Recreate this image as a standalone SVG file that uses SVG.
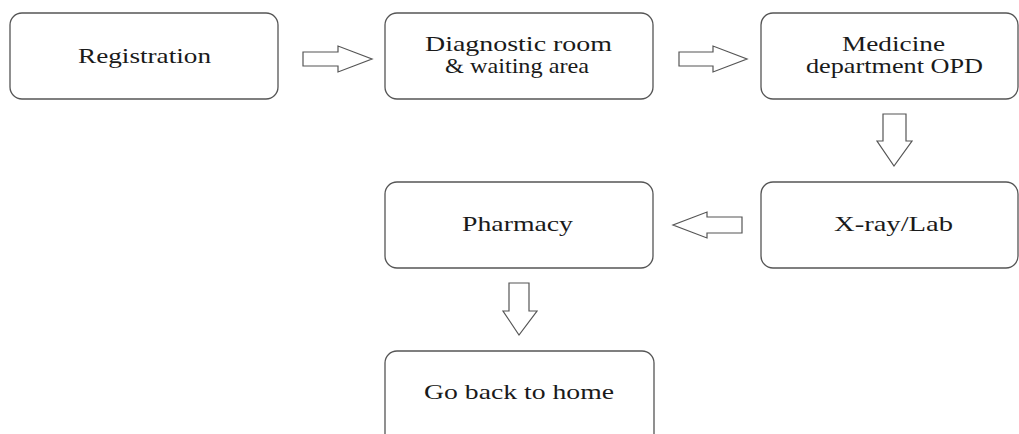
<svg xmlns="http://www.w3.org/2000/svg" width="1019" height="434" viewBox="0 0 1019 434">
<style>
.box{fill:#fff;stroke:#555;stroke-width:1.3}
.arr{fill:#fff;stroke:#555;stroke-width:1.2;stroke-linejoin:miter}
text{font-family:"Liberation Serif","Times New Roman",serif;font-size:22px;fill:#1a1a1a}
</style>
<rect width="1019" height="434" fill="#fff"/>
<g id="registration">
<rect class="box" x="10" y="13" width="268" height="86" rx="12"/>
<text x="78" y="63" textLength="133" lengthAdjust="spacingAndGlyphs">Registration</text>
</g>
<g id="diagnostic">
<rect class="box" x="385" y="13" width="268" height="86" rx="12"/>
<text x="425" y="51" textLength="187" lengthAdjust="spacingAndGlyphs">Diagnostic room</text>
<text x="445" y="73" textLength="144" lengthAdjust="spacingAndGlyphs">&amp; waiting area</text>
</g>
<g id="medicine">
<rect class="box" x="761" y="13" width="257" height="86" rx="12"/>
<text x="842" y="51" textLength="103" lengthAdjust="spacingAndGlyphs">Medicine</text>
<text x="806" y="73" textLength="177" lengthAdjust="spacingAndGlyphs">department OPD</text>
</g>
<g id="xray">
<rect class="box" x="761" y="182" width="257" height="86" rx="12"/>
<text x="834" y="231" textLength="119" lengthAdjust="spacingAndGlyphs">X-ray/Lab</text>
</g>
<g id="pharmacy">
<rect class="box" x="385" y="182" width="268" height="86" rx="12"/>
<text x="462" y="231" textLength="111" lengthAdjust="spacingAndGlyphs">Pharmacy</text>
</g>
<g id="home">
<rect class="box" x="385" y="351" width="269" height="100" rx="12"/>
<text x="424" y="399" textLength="190" lengthAdjust="spacingAndGlyphs">Go back to home</text>
</g>
<g id="connectors">
<polygon class="arr" points="303,52 338,52 338,46 372,59 338,72 338,66 303,66"/>
<polygon class="arr" points="679,52 713,52 713,46 747,59 713,72 713,66 679,66"/>
<polygon class="arr" points="883,114 906,114 906,141 912,141 894,166 877,141 883,141"/>
<polygon class="arr" points="742,217 707,217 707,212 673,225 707,238 707,233 742,233"/>
<polygon class="arr" points="509,283 529,283 529,311 537,311 519,335 503,311 509,311"/>
</g>
</svg>
